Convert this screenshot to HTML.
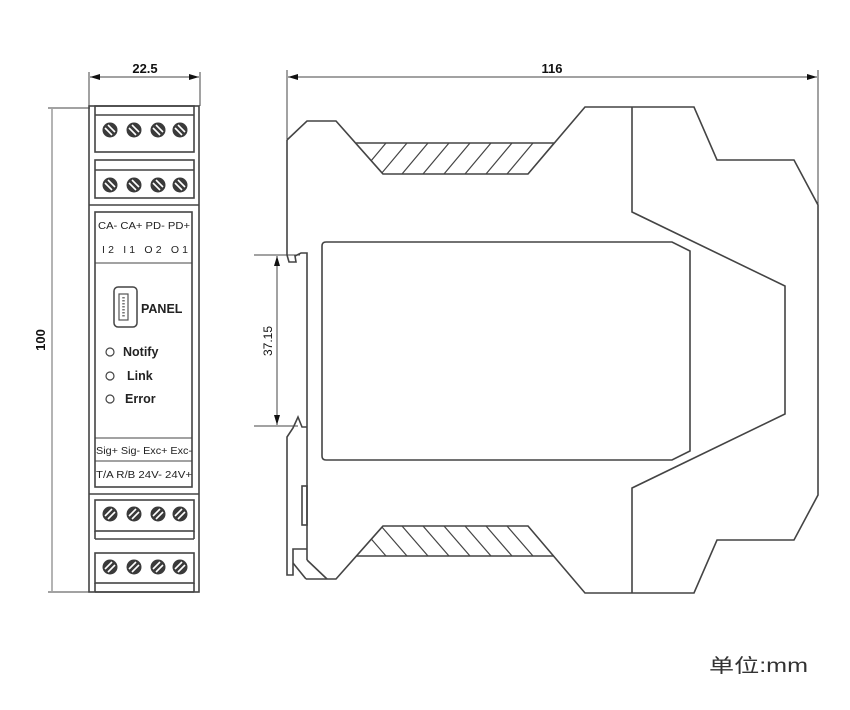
<!DOCTYPE html>
<html><head><meta charset="utf-8"><style>
html,body{margin:0;padding:0;background:#fff;}
svg{display:block;}
text{font-family:"Liberation Sans","Noto Sans CJK SC",sans-serif;}
</style></head><body>
<svg width="850" height="710" viewBox="0 0 850 710" xmlns="http://www.w3.org/2000/svg">
<defs>
<g id="sA"><circle r="7.5" fill="#3a3a3a"/><line x1="-5" y1="-2" x2="2" y2="5" stroke="#fff" stroke-width="1.6"/><line x1="-2" y1="-5" x2="5" y2="2" stroke="#fff" stroke-width="1.6"/></g>
<g id="sB"><circle r="7.5" fill="#3a3a3a"/><line x1="-5" y1="2" x2="2" y2="-5" stroke="#fff" stroke-width="1.6"/><line x1="-2" y1="5" x2="5" y2="-2" stroke="#fff" stroke-width="1.6"/></g>
<marker id="ar" viewBox="0 0 10 6" refX="10" refY="3" markerWidth="10" markerHeight="6" orient="auto-start-reverse" markerUnits="userSpaceOnUse"><path d="M0,0 L10,3 L0,6 z" fill="#111"/></marker>
</defs>

<!-- ===== Front view ===== -->
<g stroke="#444" stroke-width="1" fill="none">
<line x1="89" y1="72" x2="89" y2="106"/>
<line x1="200" y1="72" x2="200" y2="106"/>
<line x1="90" y1="77" x2="199" y2="77" marker-start="url(#ar)" marker-end="url(#ar)"/>
<line x1="48" y1="108" x2="90" y2="108"/>
<line x1="48" y1="592" x2="90" y2="592"/>
<line x1="52" y1="109" x2="52" y2="591" stroke-width="0.8"/>
</g>
<text x="145" y="73" font-size="13" font-weight="bold" text-anchor="middle" fill="#111">22.5</text>
<text transform="translate(45,340) rotate(-90)" font-size="13" font-weight="bold" text-anchor="middle" fill="#111">100</text>

<g stroke="#444" stroke-width="1.6" fill="none">
<rect x="89" y="106" width="110" height="486"/>
<rect x="95" y="106" width="99" height="46"/>
<line x1="95" y1="115" x2="194" y2="115"/>
<rect x="95" y="160" width="99" height="38"/>
<line x1="95" y1="170" x2="194" y2="170"/>
<line x1="89" y1="205" x2="199" y2="205"/>
<rect x="95" y="212" width="97" height="275"/>
<line x1="95" y1="263" x2="192" y2="263" stroke-width="1"/>
<line x1="95" y1="438" x2="192" y2="438" stroke-width="1"/>
<line x1="95" y1="461" x2="192" y2="461" stroke-width="1"/>
<line x1="89" y1="494" x2="199" y2="494"/>
<rect x="95" y="500" width="99" height="31"/>
<line x1="95" y1="539" x2="194" y2="539"/>
<rect x="95" y="553" width="99" height="30"/>
<line x1="95" y1="592" x2="194" y2="592"/>
<line x1="95" y1="531" x2="95" y2="539"/><line x1="194" y1="531" x2="194" y2="539"/>
<line x1="95" y1="583" x2="95" y2="592"/><line x1="194" y1="583" x2="194" y2="592"/>
</g>
<use href="#sA" x="110" y="130"/><use href="#sA" x="134" y="130"/><use href="#sA" x="158" y="130"/><use href="#sA" x="180" y="130"/>
<use href="#sA" x="110" y="185"/><use href="#sA" x="134" y="185"/><use href="#sA" x="158" y="185"/><use href="#sA" x="180" y="185"/>
<use href="#sB" x="110" y="514"/><use href="#sB" x="134" y="514"/><use href="#sB" x="158" y="514"/><use href="#sB" x="180" y="514"/>
<use href="#sB" x="110" y="567"/><use href="#sB" x="134" y="567"/><use href="#sB" x="158" y="567"/><use href="#sB" x="180" y="567"/>

<g font-size="10.5" fill="#222">
<text x="98" y="229" textLength="92" lengthAdjust="spacingAndGlyphs">CA- CA+ PD- PD+</text>
<text x="102" y="253" textLength="86" lengthAdjust="spacing">I2  I1  O2  O1</text>
<text x="96" y="454" textLength="96" lengthAdjust="spacingAndGlyphs">Sig+ Sig- Exc+ Exc-</text>
<text x="96" y="478" textLength="96" lengthAdjust="spacingAndGlyphs">T/A R/B 24V- 24V+</text>
</g>
<rect x="114" y="287" width="23" height="40" rx="4" fill="none" stroke="#444" stroke-width="1.5"/>
<rect x="119" y="294" width="9" height="26" fill="none" stroke="#555" stroke-width="1.2"/>
<line x1="123.5" y1="297" x2="123.5" y2="317" stroke="#777" stroke-width="2.5" stroke-dasharray="1.5,1.5"/>
<text x="141" y="313" font-size="12.5" font-weight="bold" fill="#222">PANEL</text>
<g fill="none" stroke="#444" stroke-width="1.2">
<circle cx="110" cy="352" r="4"/><circle cx="110" cy="376" r="4"/><circle cx="110" cy="399" r="4"/>
</g>
<g font-size="12.5" font-weight="bold" fill="#222">
<text x="123" y="356">Notify</text>
<text x="127" y="380">Link</text>
<text x="125" y="403">Error</text>
</g>

<!-- ===== Side view ===== -->
<g stroke="#444" stroke-width="1" fill="none">
<line x1="287" y1="70" x2="287" y2="140"/>
<line x1="818" y1="70" x2="818" y2="205"/>
<line x1="288" y1="77" x2="817" y2="77" marker-start="url(#ar)" marker-end="url(#ar)"/>
<line x1="254" y1="255" x2="300" y2="255"/>
<line x1="254" y1="426" x2="298" y2="426"/>
<line x1="277" y1="256" x2="277" y2="425" marker-start="url(#ar)" marker-end="url(#ar)"/>
</g>
<text x="552" y="73" font-size="13" font-weight="bold" text-anchor="middle" fill="#111">116</text>
<text transform="translate(272,341) rotate(-90)" font-size="12" text-anchor="middle" fill="#111">37.15</text>

<g stroke="#444" stroke-width="1.6" fill="none" stroke-linejoin="miter">
<path d="M287,140 L307,121 L336,121 L383,174 L528,174 L585,107 L694,107 L717,160 L794,160 L818,205 L818,495 L794,540 L717,540 L694,593 L585,593 L528,526 L383,526 L336,579 L306,579"/>
<path d="M287,140 L287,255 L289,262 L296,262 L295,256 L301,253 L307,253 L307,560"/>
<path d="M307,427 L302,427 L298,417 L293,428 L287,437 L287,575 L293,575 L293,549 L307,549"/>
<path d="M293,563 L306,579"/>
<path d="M307,560 L327,579"/>
<rect x="302" y="486" width="5" height="39"/>
<path d="M356,143 L554,143"/>
<path d="M356,556 L554,556"/>
<path d="M632,107 L632,212 L785,286 L785,414 L632,488 L632,593"/>
<path d="M326,242 L672,242 L690,251 L690,451 L672,460 L326,460 Q322,460 322,456 L322,246 Q322,242 326,242 Z"/>
</g>
<defs>
<clipPath id="ct"><path d="M356,143 L554,143 L528,174 L383,174 Z"/></clipPath>
<clipPath id="cb"><path d="M356,556 L554,556 L528,526 L383,526 Z"/></clipPath>
</defs>
<g stroke="#444" stroke-width="1.2" clip-path="url(#ct)">
<line x1="360" y1="174" x2="386" y2="143"/><line x1="381" y1="174" x2="407" y2="143"/><line x1="402" y1="174" x2="428" y2="143"/><line x1="423" y1="174" x2="449" y2="143"/><line x1="444" y1="174" x2="470" y2="143"/><line x1="465" y1="174" x2="491" y2="143"/><line x1="486" y1="174" x2="512" y2="143"/><line x1="507" y1="174" x2="533" y2="143"/><line x1="528" y1="174" x2="554" y2="143"/>
</g>
<g stroke="#444" stroke-width="1.2" clip-path="url(#cb)">
<line x1="360" y1="526" x2="386" y2="556"/><line x1="381" y1="526" x2="407" y2="556"/><line x1="402" y1="526" x2="428" y2="556"/><line x1="423" y1="526" x2="449" y2="556"/><line x1="444" y1="526" x2="470" y2="556"/><line x1="465" y1="526" x2="491" y2="556"/><line x1="486" y1="526" x2="512" y2="556"/><line x1="507" y1="526" x2="533" y2="556"/><line x1="528" y1="526" x2="554" y2="556"/>
</g>

<text x="709" y="672" font-size="19" fill="#333" textLength="99" lengthAdjust="spacingAndGlyphs">单位:mm</text>
</svg>
</body></html>
